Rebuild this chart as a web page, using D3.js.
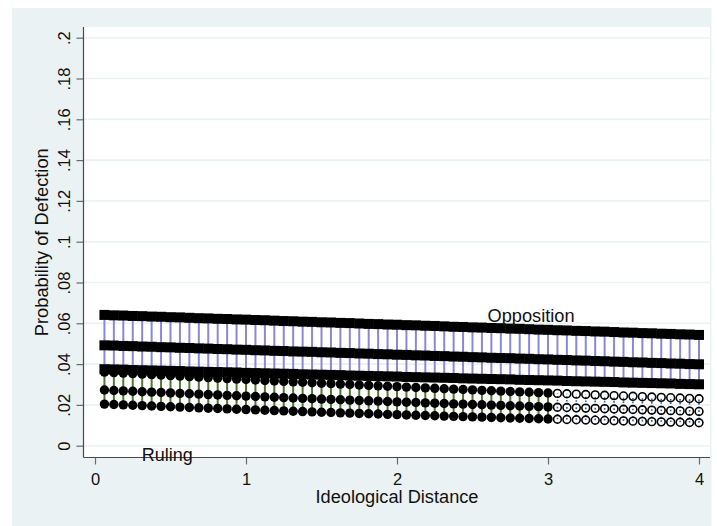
<!DOCTYPE html>
<html>
<head>
<meta charset="utf-8">
<script src="https://cdn.jsdelivr.net/npm/d3@7"></script>
<style>
  html, body { margin: 0; padding: 0; background: #ffffff; }
  svg { display: block; font-family: "Liberation Sans", Arial, sans-serif; }
</style>
</head>
<body>
<div id="chart"></div>
<script>
// Predicted probability of defection by ideological distance,
// opposition vs. ruling party members (upper bound, estimate, lower bound).
const distance = [0.0625,0.125,0.1875,0.25,0.3125,0.375,0.4375,0.5,0.5625,0.625,0.6875,0.75,0.8125,0.875,0.9375,1,
  1.0625,1.125,1.1875,1.25,1.3125,1.375,1.4375,1.5,1.5625,1.625,1.6875,1.75,1.8125,1.875,1.9375,2,
  2.0625,2.125,2.1875,2.25,2.3125,2.375,2.4375,2.5,2.5625,2.625,2.6875,2.75,2.8125,2.875,2.9375,3,
  3.0625,3.125,3.1875,3.25,3.3125,3.375,3.4375,3.5,3.5625,3.625,3.6875,3.75,3.8125,3.875,3.9375,4];

const oppUpper = [.0641,.0639,.0638,.0636,.0635,.0633,.0632,.0630,.0629,.0627,.0625,.0624,.0622,.0621,.0619,.0618,
  .0616,.0615,.0613,.0611,.0610,.0608,.0607,.0605,.0604,.0602,.0601,.0599,.0597,.0596,.0594,.0593,
  .0591,.0590,.0588,.0587,.0585,.0583,.0582,.0580,.0579,.0577,.0576,.0574,.0573,.0571,.0569,.0568,
  .0566,.0565,.0563,.0562,.0560,.0559,.0557,.0555,.0554,.0552,.0551,.0549,.0548,.0546,.0545,.0543];
const oppMean = [.0492,.0491,.0489,.0488,.0486,.0485,.0483,.0482,.0480,.0479,.0477,.0476,.0474,.0473,.0471,.0470,
  .0468,.0467,.0465,.0464,.0462,.0461,.0460,.0458,.0457,.0455,.0454,.0452,.0451,.0449,.0448,.0446,
  .0445,.0443,.0442,.0440,.0439,.0437,.0436,.0434,.0433,.0431,.0430,.0429,.0427,.0426,.0424,.0423,
  .0421,.0420,.0418,.0417,.0415,.0414,.0412,.0411,.0409,.0408,.0406,.0405,.0403,.0402,.0400,.0399];
const oppLower = [.0375,.0374,.0373,.0371,.0370,.0369,.0368,.0367,.0366,.0364,.0363,.0362,.0361,.0360,.0359,.0357,
  .0356,.0355,.0354,.0353,.0352,.0350,.0349,.0348,.0347,.0346,.0344,.0343,.0342,.0341,.0340,.0339,
  .0337,.0336,.0335,.0334,.0333,.0332,.0330,.0329,.0328,.0327,.0326,.0325,.0323,.0322,.0321,.0320,
  .0319,.0317,.0316,.0315,.0314,.0313,.0312,.0310,.0309,.0308,.0307,.0306,.0305,.0303,.0302,.0301];

const rulUpper = [.03610,.03584,.03559,.03534,.03508,.03483,.03459,.03434,.03410,.03385,.03361,.03338,.03314,.03290,.03267,.03244,
  .03221,.03198,.03175,.03153,.03130,.03108,.03086,.03064,.03042,.03021,.02999,.02978,.02957,.02936,.02915,.02894,
  .02873,.02853,.02833,.02813,.02793,.02773,.02753,.02733,.02714,.02694,.02675,.02656,.02637,.02619,.02600,.02581,
  .02563,.02545,.02527,.02509,.02491,.02473,.02456,.02438,.02421,.02403,.02386,.02369,.02352,.02336,.02319,.02302];
const rulMean = [.02729,.02708,.02687,.02667,.02646,.02626,.02606,.02586,.02566,.02546,.02527,.02507,.02488,.02469,.02450,.02431,
  .02413,.02394,.02376,.02357,.02339,.02321,.02304,.02286,.02268,.02251,.02234,.02217,.02200,.02183,.02166,.02149,
  .02133,.02116,.02100,.02084,.02068,.02052,.02036,.02021,.02005,.01990,.01975,.01959,.01944,.01929,.01915,.01900,
  .01885,.01871,.01856,.01842,.01828,.01814,.01800,.01786,.01772,.01759,.01745,.01732,.01719,.01705,.01692,.01679];
const rulLower = [.02040,.02021,.02002,.01983,.01965,.01946,.01928,.01910,.01892,.01874,.01857,.01839,.01822,.01805,.01788,.01771,
  .01754,.01738,.01722,.01705,.01689,.01673,.01658,.01642,.01627,.01611,.01596,.01581,.01566,.01552,.01537,.01523,
  .01508,.01494,.01480,.01466,.01452,.01439,.01425,.01412,.01399,.01385,.01372,.01360,.01347,.01334,.01322,.01309,
  .01297,.01285,.01273,.01261,.01249,.01237,.01226,.01214,.01203,.01191,.01180,.01169,.01158,.01147,.01137,.01126];

// Ruling-party estimates beyond this distance are shown as hollow markers
const rulSolidMax = 3;

const yTicks = [0,.02,.04,.06,.08,.1,.12,.14,.16,.18,.2];
const yTickLabels = ["0",".02",".04",".06",".08",".1",".12",".14",".16",".18",".2"];
const xTicks = [0,1,2,3,4];
const xTickLabels = ["0","1","2","3","4"];

const xTitle = "Ideological Distance";
const yTitle = "Probability of Defection";
const groupLabels = [
  { text: "Opposition", x: 2.6, y: .0637, len: 87 },
  { text: "Ruling", x: 0.31, y: -.0043, len: 51 }
];

const W = 717, H = 526;
const svg = d3.select("#chart").append("svg").attr("width", W).attr("height", H);

const bgColor = "#eaf2f3";
const plot = { left: 83.5, right: 710, top: 27, bottom: 457.5 };

svg.append("rect").attr("x", 12).attr("y", 8).attr("width", 699.5).attr("height", H - 8).attr("fill", bgColor);
svg.append("rect").attr("x", plot.left).attr("y", plot.top)
  .attr("width", plot.right - plot.left).attr("height", plot.bottom - plot.top).attr("fill", "#ffffff");

const x = d3.scaleLinear().domain([0, 4]).range([95, 699]);
const y = d3.scaleLinear().domain([0, .2]).range([445.7, 37.7]);

// horizontal grid
svg.append("g").selectAll("line").data(yTicks).join("line")
  .attr("x1", plot.left).attr("x2", plot.right)
  .attr("y1", d => y(d)).attr("y2", d => y(d))
  .attr("stroke", bgColor).attr("stroke-width", 1.6);

// y axis
const yAxis = svg.append("g").attr("transform", `translate(${plot.left},0)`)
  .call(d3.axisLeft(y).tickValues(yTicks).tickFormat((d, i) => yTickLabels[i]).tickSize(7).tickSizeOuter(0));
yAxis.select(".domain").remove();
yAxis.selectAll(".tick line").attr("stroke", "#6a6a6a").attr("stroke-width", 1.2);
yAxis.selectAll(".tick text")
  .attr("transform", "rotate(-90)")
  .attr("x", 0).attr("y", -13.5).attr("dy", 0)
  .attr("text-anchor", "middle")
  .attr("font-size", 16.5).attr("fill", "#111")
  .attr("font-family", "Liberation Sans, Arial, sans-serif");

// x axis
const xAxis = svg.append("g").attr("transform", `translate(0,${plot.bottom})`)
  .call(d3.axisBottom(x).tickValues(xTicks).tickFormat((d, i) => xTickLabels[i]).tickSize(7).tickSizeOuter(0));
xAxis.select(".domain").remove();
xAxis.selectAll(".tick line").attr("stroke", "#6a6a6a").attr("stroke-width", 1.2);
xAxis.selectAll(".tick text")
  .attr("y", 27.5).attr("dy", 0)
  .attr("font-size", 16.5).attr("fill", "#111")
  .attr("font-family", "Liberation Sans, Arial, sans-serif");

// axis lines
svg.append("line").attr("x1", plot.left).attr("x2", plot.left).attr("y1", plot.top).attr("y2", plot.bottom)
  .attr("stroke", "#4a4a4a").attr("stroke-width", 1.2);
svg.append("line").attr("x1", plot.left).attr("x2", plot.right).attr("y1", plot.bottom).attr("y2", plot.bottom)
  .attr("stroke", "#4a4a4a").attr("stroke-width", 1.2);

// axis titles
svg.append("text").attr("x", 397).attr("y", 503)
  .attr("text-anchor", "middle").attr("font-size", 17.5).attr("fill", "#111")
  .attr("textLength", 163).attr("lengthAdjust", "spacingAndGlyphs")
  .text(xTitle);
svg.append("text").attr("transform", `translate(47.5,${(plot.top + plot.bottom) / 2}) rotate(-90)`)
  .attr("text-anchor", "middle").attr("font-size", 17.5).attr("fill", "#111")
  .attr("textLength", 188).attr("lengthAdjust", "spacingAndGlyphs")
  .text(yTitle);

const opp = distance.map((d, i) => ({ d, lo: oppLower[i], m: oppMean[i], hi: oppUpper[i] }));
const rul = distance.map((d, i) => ({ d, lo: rulLower[i], m: rulMean[i], hi: rulUpper[i], solid: d <= rulSolidMax }));

// confidence spikes
svg.append("g").selectAll("line").data(opp).join("line")
  .attr("x1", p => x(p.d)).attr("x2", p => x(p.d))
  .attr("y1", p => y(p.lo)).attr("y2", p => y(p.hi))
  .attr("stroke", "#8b87d8").attr("stroke-width", 2);
svg.append("g").selectAll("line").data(rul).join("line")
  .attr("x1", p => x(p.d)).attr("x2", p => x(p.d))
  .attr("y1", p => y(p.lo)).attr("y2", p => y(p.hi))
  .attr("stroke", p => p.solid ? "#4f7a2a" : "#2f5d9e")
  .attr("stroke-width", p => p.solid ? 2 : 1.6)
  .attr("stroke-dasharray", p => p.solid ? null : "1.6,2");

// ruling-party markers
["hi", "m", "lo"].forEach(key => {
  svg.append("g").selectAll("circle").data(rul).join("circle")
    .attr("cx", p => x(p.d)).attr("cy", p => y(p[key]))
    .attr("r", p => p.solid ? 4.7 : 3.9)
    .attr("fill", p => p.solid ? "#000" : "none")
    .attr("stroke", p => p.solid ? "none" : "#000")
    .attr("stroke-width", 1.6);
});

// opposition markers
const sq = 10;
["hi", "m", "lo"].forEach(key => {
  svg.append("g").selectAll("rect").data(opp).join("rect")
    .attr("x", p => x(p.d) - sq / 2).attr("y", p => y(p[key]) - sq / 2)
    .attr("width", sq).attr("height", sq).attr("fill", "#000");
});

// group labels
svg.append("g").selectAll("text").data(groupLabels).join("text")
  .attr("x", l => x(l.x)).attr("y", l => y(l.y))
  .attr("dominant-baseline", "central")
  .attr("font-size", 18.5).attr("fill", "#111")
  .attr("textLength", l => l.len).attr("lengthAdjust", "spacingAndGlyphs")
  .text(l => l.text);
</script>
</body>
</html>
